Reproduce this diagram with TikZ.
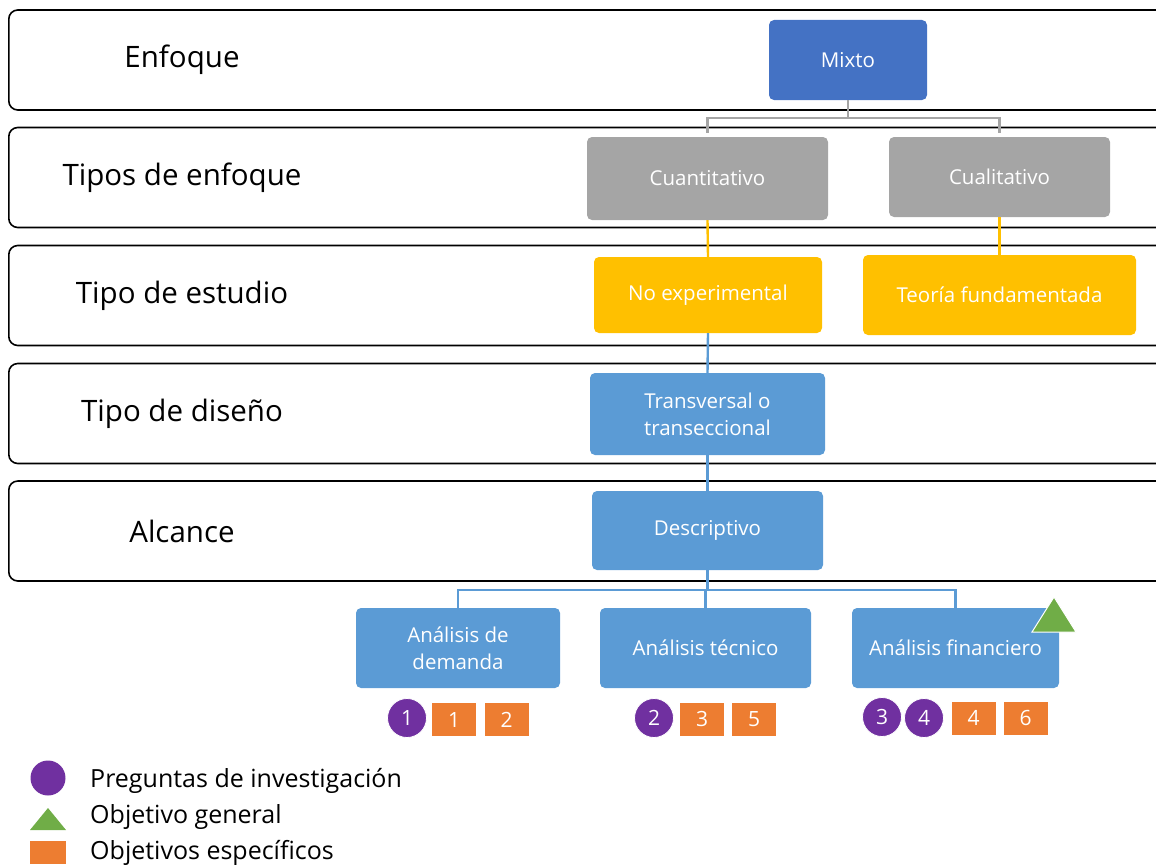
\documentclass[tikz,border=0pt]{standalone}
\usepackage{fontspec}
\setmainfont{Open Sans}
\definecolor{azul}{HTML}{4472C4}
\definecolor{gris}{HTML}{A5A5A5}
\definecolor{amarillo}{HTML}{FFC000}
\definecolor{celeste}{HTML}{5B9BD5}
\definecolor{morado}{HTML}{7030A0}
\definecolor{naranja}{HTML}{ED7D31}
\definecolor{verde}{HTML}{70AD47}

\begin{document}
\begin{tikzpicture}[x=1pt,y=-1pt,
band/.style={draw=black,line width=1.6pt,rounded corners=9pt,minimum width=1180pt,minimum height=100pt,anchor=west},
rowlabel/.style={font=\fontsize{29.5}{32}\selectfont},
box/.style={rounded corners=5pt,text=white,align=center,inner sep=0pt,font=\fontsize{20.5}{27}\selectfont},
link/.style={line width=2.4pt},
pregunta/.style={circle,fill=morado,draw=white,line width=0.8pt,text=white,minimum size=39pt,inner sep=0pt,font=\fontsize{21}{22}\selectfont},
especifico/.style={fill=naranja,text=white,minimum width=44pt,minimum height=33pt,inner sep=0pt,font=\fontsize{21}{22}\selectfont},
legend/.style={anchor=west,inner sep=0pt,font=\fontsize{25}{28}\selectfont}
]
\useasboundingbox (0,0) rectangle (1156,867);

%%%% bands
%%%%
\foreach[count=\i] \y/\t in{
60/Enfoque,177.5/Tipos de enfoque,295.5/Tipo de estudio,413.5/Tipo de diseño,531/Alcance%
}{
\node[band](band\i) at(8,\y) {};
\node[rowlabel](lab\i) at(182,\y) {\t};
}

%%%% boxes
%%%%
\foreach \n \x \y \w \h \c \t in{
mixto/848/60/158/80/azul/Mixto,
cuanti/707.5/178.5/241/83/gris/Cuantitativo,
cuali/999.5/177/221/80/gris/Cualitativo,
noexp/708/295/228/76/amarillo/No experimental,
teoria/999.5/295/273/80/amarillo/Teoría fundamentada,
trans/707.5/414/235/82/celeste/{Transversal o\\transeccional},
desc/707.5/530.5/231/79/celeste/Descriptivo,
demanda/458/648/204/80/celeste/{Análisis de\\demanda},
tecnico/705.5/648/211/80/celeste/Análisis técnico,
financ/955.5/648/207/80/celeste/Análisis financiero%
}{
\node[box,fill=\c,minimum width=\w,minimum height=\h](\n) at(\x,\y) {\t};
}

%%%% connectors
%%%%
\foreach \v in{cuanti,cuali}{
\draw[link,gris,shorten >=4pt] (mixto.south) -- ++(0,18) -| (\v.north);
}
\draw[link,amarillo] (cuanti.south) -- (noexp.north);
\draw[link,amarillo] (cuali.south) -- (teoria.north);
\draw[link,celeste] (noexp.south) -- (trans.north);
\draw[link,celeste] (trans.south) -- (desc.north);
\foreach \v in{demanda,tecnico,financ}{
\draw[link,celeste] (desc.south) -- ++(0,20) -| (\v.north);
}

%%%% objectives
%%%%
\foreach \n \x \y \t in{
p1/407/718/1,p2/654/718/2,p3/882/717/3,p4/924/718/4%
}{
\node[pregunta](\n) at(\x,\y) {\t};
}
\foreach \n \x \y \t in{
e1/454/719.5/1,e2/506.5/719.5/2,e3/702/719/3,e5/754/719/5,e4/973.5/718/4,e6/1025.5/718/6%
}{
\node[especifico](\n) at(\x,\y) {\t};
}
\filldraw[fill=verde,draw=white,line width=1pt] (1032,632) -- (1076,632) -- (1054,597) -- cycle;

%%%% legend
%%%%
\node[pregunta,minimum size=35pt,draw=none](legp) at(48,778) {};
\fill[verde] (30,830) -- (66,830) -- (48,808) -- cycle;
\node[especifico,minimum width=36pt,minimum height=23pt](lege) at(48,852.5) {};
\node[legend](t1) at(90,781) {Preguntas de investigación};
\node[legend](t2) at(90,817) {Objetivo general};
\node[legend](t3) at(90,853) {Objetivos específicos};

\end{tikzpicture}
\end{document}
